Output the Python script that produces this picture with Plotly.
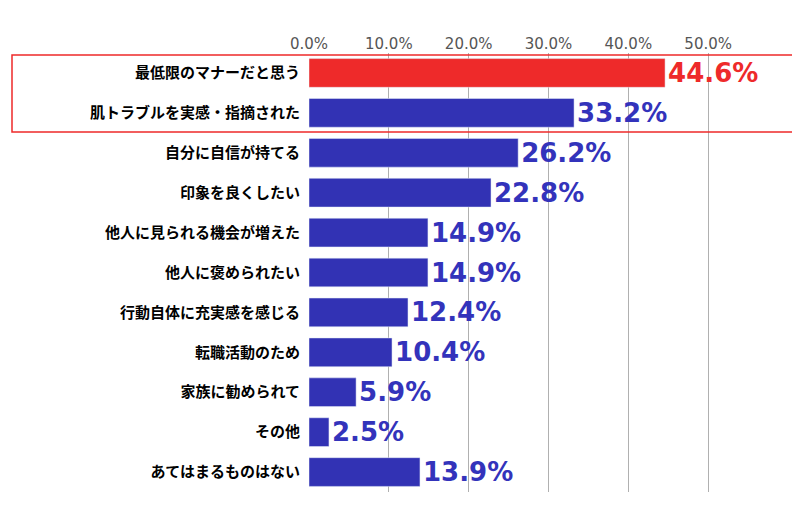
import plotly.graph_objects as go

categories = ["最低限のマナーだと思う","肌トラブルを実感・指摘された","自分に自信が持てる","印象を良くしたい",
              "他人に見られる機会が増えた","他人に褒められたい","行動自体に充実感を感じる","転職活動のため",
              "家族に勧められて","その他","あてはまるものはない"]
values = [44.6,33.2,26.2,22.8,14.9,14.9,12.4,10.4,5.9,2.5,13.9]
tick_vals = [0,10,20,30,40,50]
tick_text = ["0.0%","10.0%","20.0%","30.0%","40.0%","50.0%"]

blue = "#3232b4"; red = "#ee2a2a"
colors = [red] + [blue]*(len(values)-1)
tcolors = [red] + ["#3333bb"]*(len(values)-1)

fig = go.Figure(go.Bar(
    y=categories, x=values, orientation="h", marker_color=colors,
    text=[f"{v:.1f}%" for v in values], textposition="outside",
    texttemplate="<b>%{text}</b>", constraintext="none",
    textfont=dict(size=26, color=tcolors, family="Verdana, DejaVu Sans"),
    cliponaxis=False, width=0.72))

W, H = 800, 510
ox, oy = 8, 8
l, r, t, b = 309-ox, 12+ox, 53-oy, 18+oy
pw, ph = W-l-r, H-t-b
def px(x): return (x-ox-l)/pw
def py(y): return 1-(y-oy-t)/ph

fig.update_layout(
    width=W, height=H, margin=dict(l=l, r=r, t=t, b=b),
    plot_bgcolor="white", paper_bgcolor="white", showlegend=False,
    font=dict(family="Noto Sans CJK JP", color="black"),
    xaxis=dict(range=[0,60], side="top", tickvals=tick_vals, ticktext=tick_text,
               showgrid=True, gridcolor="#b0b0b0", zeroline=False,
               tickfont=dict(size=15, color="#555555", family="Verdana, DejaVu Sans"),
               showline=False, tickprefix="<b>", ticksuffix="</b>"),
    yaxis=dict(autorange="reversed", tickfont=dict(size=15, color="black"),
               ticklabelstandoff=8, showline=False, tickprefix="<b>", ticksuffix="</b>"),
    shapes=[dict(type="rect", xref="paper", yref="paper",
                 x0=px(12), x1=px(795), y0=py(132), y1=py(55),
                 line=dict(color="#ee2a2a", width=1.5))],
)
fig.write_html("out.html")
